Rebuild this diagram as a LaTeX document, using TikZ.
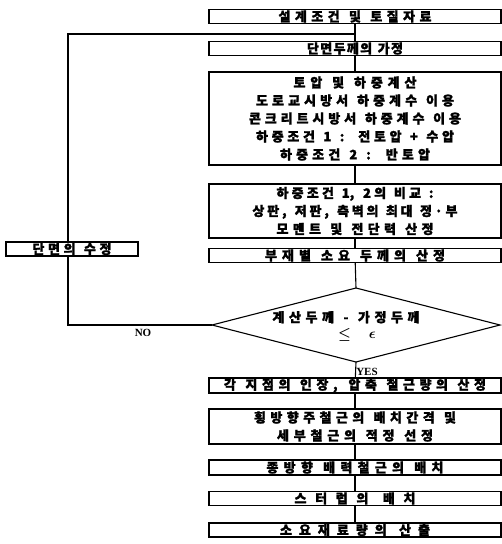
\documentclass[tikz,border=0pt]{standalone}
\usepackage{amsmath}
\usepackage{fontspec}
\setmainfont{Liberation Serif}
\newfontfamily\kr[BoldFeatures={FakeBold=1.6}]{Noto Sans CJK KR}
% spread Hangul text to a given width: glue between letters and at word spaces
\newXeTeXintercharclass\hgc
\newcount\hcnt
\hcnt="AC00
\loop\XeTeXcharclass\hcnt=\hgc\relax\advance\hcnt by 1\relax\ifnum\hcnt<"D7A4\relax\repeat
\XeTeXinterchartoks\hgc\hgc={\hfil}
\XeTeXinterchartoks\hgc 0={\hfil}
\XeTeXinterchartoks 0 \hgc={\hfil}
\newcommand\spr[2]{\hbox to #1pt{\spaceskip=4pt plus 1.2fil\XeTeXinterchartokenstate=1 #2}}
\tikzset{
  flowbox/.style={draw, line width=1.1pt, fill=white, minimum width=292, inner sep=0pt,
    align=center, font=\kr\bfseries\fontsize{13}{18}\selectfont},
  conn/.style={line width=1.1pt},
  lbl/.style={font=\bfseries\fontsize{11}{12}\selectfont, inner sep=0pt}
}
\begin{document}
\begin{tikzpicture}[x=1pt,y=-1pt]
\useasboundingbox (0,0) rectangle (502,544);
% loop coordinates
\coordinate (lb) at (68,325);
\coordinate (lt) at (68,34);
\coordinate (j) at (355,34);
% decision diamond corners
\coordinate (dT) at (356,288);
\coordinate (dB) at (356,362);
\coordinate (dL) at (212,325);
\coordinate (dR) at (500,325);
% main boxes
\node[flowbox, minimum height=14] (b1) at (355,16.5) {\spr{153}{설계조건 및 토질자료}};
\node[flowbox, minimum height=14] (b2) at (355,48.5) {\spr{96}{단면두께의 가정}};
\node[flowbox, minimum height=93] (b3) at (355,118.5) {\spr{123}{토압 및 하중계산}\\\spr{198}{도로교시방서 하중계수 이용}\\\spr{212}{콘크리트시방서 하중계수 이용}\\\spr{198}{하중조건 1 : 전토압 + 수압}\\\spr{150}{하중조건 2 : 반토압}};
\node[flowbox, minimum height=54] (b4) at (355,211) {\spr{157}{하중조건 1, 2의 비교 :}\\\spr{205}{상판, 저판, 측벽의 최대 정·부}\\\spr{157}{모멘트 및 전단력 산정}};
\node[flowbox, minimum height=14] (b5) at (355,255.5) {\spr{180}{부재별 소요 두께의 산정}};
\node[flowbox, minimum height=15] (b7) at (355,385.5) {\spr{262}{각 지점의 인장, 압축 철근량의 산정}};
\node[flowbox, minimum height=35] (b8) at (355,426.5) {\spr{202}{횡방향주철근의 배치간격 및}\\\spr{156}{세부철근의 적정 선정}};
\node[flowbox, minimum height=15] (b9) at (355,467.5) {\spr{177}{종방향 배력철근의 배치}};
\node[flowbox, minimum height=14] (b10) at (355,498.5) {\spr{121}{스터럽의 배치}};
\node[flowbox, minimum height=14] (b11) at (355,530) {\spr{150}{소요재료량의 산출}};
% connectors
\draw[conn] (b1) -- (b2);
\draw[conn] (b2) -- (b3);
\draw[conn] (b3) -- (b4);
\draw[conn] (b4) -- (b5);
\draw[conn] (b5) -- (dT);
\draw[conn] (dB) -- (b7);
\draw[conn] (b7) -- (b8);
\draw[conn] (b8) -- (b9);
\draw[conn] (b9) -- (b10);
\draw[conn] (b10) -- (b11);
\draw[conn] (dL) -- (lb) -- (lt) -- (j);
% diamond
\draw[conn, fill=white] (dT) -- (dR) -- (dB) -- (dL) -- cycle;
\node[font=\kr\bfseries\fontsize{13}{16}\selectfont, align=center, inner sep=0pt] (dtext) at (346,326)
  {\spr{147}{계산두께 - 가정두께}\\\hspace*{22pt}{\fontsize{15}{16}\selectfont$\boldsymbol{\leq}$\hspace{18pt}$\boldsymbol{\epsilon}$}};
% redraw top boxes over connectors
\node[flowbox, minimum height=14] at (b1) {\spr{153}{설계조건 및 토질자료}};
\node[flowbox, minimum height=14] at (b2) {\spr{96}{단면두께의 가정}};
% side box
\node[flowbox, minimum width=132, minimum height=14] (side) at (72,249) {\spr{79}{단면의 수정}};
% labels
\node[lbl] (no) at (143,333) {NO};
\node[lbl] (yes) at (367,372) {YES};
\end{tikzpicture}
\end{document}
